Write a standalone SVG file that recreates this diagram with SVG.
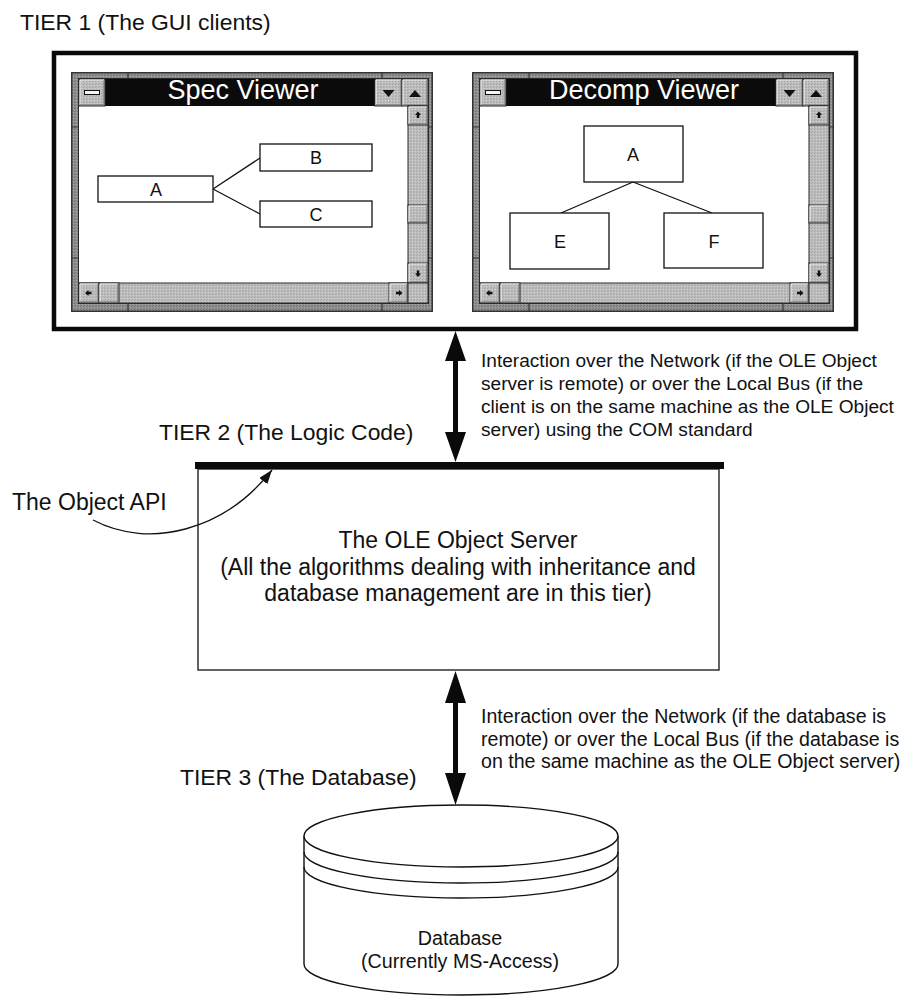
<svg xmlns="http://www.w3.org/2000/svg" xmlns:xlink="http://www.w3.org/1999/xlink" width="905" height="997" viewBox="0 0 905 997">
  <style>
    text { font-family: "Liberation Sans", Arial, Helvetica, sans-serif; fill: #111; }
    .tier { font-size: 22.9px; }
    .note { font-size: 19.6px; }
    .note-com { font-size: 19.1px; }
    .server { font-size: 23px; text-anchor: middle; }
    .db { font-size: 19.7px; text-anchor: middle; }
    .title { font-size: 27px; fill: #fff; text-anchor: middle; }
    .lbl { font-size: 18px; text-anchor: middle; }
    .box { fill: #fff; stroke: #111; stroke-width: 1.3; }
    .link { fill: none; stroke: #111; stroke-width: 1.3; }
    .btn { fill: url(#lightgrain); stroke: #2a2a2a; stroke-width: 1; }
    .hi { fill: none; stroke: #f2f2f2; stroke-width: 1; }
    .sh { fill: none; stroke: #6a6a6a; stroke-width: 1; }
    .glyph { fill: #111; }
    .track { fill: url(#lightgrain); stroke: #2a2a2a; stroke-width: 1; }
    .bigarrow { fill: #0a0a0a; }
  </style>
  <defs>
    <!-- dithered greys of the window frame and scroll bars -->
    <pattern id="grain" width="3" height="3" patternUnits="userSpaceOnUse">
      <rect width="3" height="3" fill="#8e8e8e"/>
      <rect x="0" y="0" width="1" height="1" fill="#707070"/>
      <rect x="2" y="1" width="1" height="1" fill="#a9a9a9"/>
      <rect x="1" y="2" width="1" height="1" fill="#7c7c7c"/>
    </pattern>
    <pattern id="lightgrain" width="3" height="3" patternUnits="userSpaceOnUse">
      <rect width="3" height="3" fill="#bcbcbc"/>
      <rect x="0" y="0" width="1" height="1" fill="#a4a4a4"/>
      <rect x="2" y="1" width="1" height="1" fill="#d2d2d2"/>
      <rect x="1" y="2" width="1" height="1" fill="#adadad"/>
    </pattern>
    <marker id="tip" viewBox="0 0 14 10" refX="14" refY="5" markerWidth="14" markerHeight="10" markerUnits="userSpaceOnUse" orient="auto">
      <path d="M0,0 L14,5 L0,10 Z" fill="#111"/>
    </marker>

    <!-- Windows 3.x style window frame, 362 x 240 -->
    <g id="win-chrome">
      <rect x="0.75" y="0.75" width="360.5" height="238.5" fill="url(#grain)" stroke="#333" stroke-width="1.5"/>
      <path d="M57 0v7M311 0v7M57 231v9M311 231v9M0 55h8M0 186h8M357 55h5M357 186h5" stroke="#333" stroke-width="1.2"/>
      <rect x="8" y="34" width="329" height="177" fill="#fff"/>
      <rect x="34" y="7" width="270" height="27" fill="#0b0b0b"/>
      <!-- control menu button -->
      <rect class="btn" x="8" y="7" width="26" height="27"/>
      <path class="hi" d="M9,33 V8 H33"/>
      <path class="sh" d="M9,33 H33 V8"/>
      <rect x="13.5" y="18.5" width="15" height="4" fill="#f4f4f4" stroke="#111" stroke-width="1"/>
      <!-- minimize / maximize -->
      <rect class="btn" x="304" y="7" width="27" height="27"/>
      <path class="hi" d="M305,33 V8 H330"/>
      <path class="sh" d="M305,33 H330 V8"/>
      <path class="glyph" d="M311.5,18 h12 l-6,7 z"/>
      <rect class="btn" x="331" y="7" width="26" height="27"/>
      <path class="hi" d="M332,33 V8 H356"/>
      <path class="sh" d="M332,33 H356 V8"/>
      <path class="glyph" d="M338,25 h12 l-6,-7 z"/>
      <!-- vertical scroll bar -->
      <rect class="track" x="337" y="34" width="20" height="177"/>
      <rect class="btn" x="337" y="34" width="20" height="19"/>
      <path class="hi" d="M338,52 V35 H356"/>
      <path class="sh" d="M338,52 H356 V35"/>
      <path class="glyph" d="M347,39.5 l3,3.5 h-1.8 v3 h-2.4 v-3 h-1.8 z"/>
      <rect class="btn" x="337" y="133" width="20" height="18"/>
      <path class="hi" d="M338,150 V134 H356"/>
      <path class="sh" d="M338,150 H356 V134"/>
      <rect class="btn" x="337" y="191" width="20" height="20"/>
      <path class="hi" d="M338,210 V192 H356"/>
      <path class="sh" d="M338,210 H356 V192"/>
      <path class="glyph" d="M347,205 l3,-3.5 h-1.8 v-3 h-2.4 v3 h-1.8 z"/>
      <!-- horizontal scroll bar -->
      <rect class="track" x="8" y="211" width="329" height="20"/>
      <rect class="btn" x="8" y="211" width="20" height="20"/>
      <path class="hi" d="M9,230 V212 H27"/>
      <path class="sh" d="M9,230 H27 V212"/>
      <path class="glyph" d="M14,221 l3.5,-3 v1.8 h3 v2.4 h-3 v1.8 z"/>
      <rect class="btn" x="28" y="211" width="20" height="20"/>
      <path class="hi" d="M29,230 V212 H47"/>
      <path class="sh" d="M29,230 H47 V212"/>
      <rect class="btn" x="318" y="211" width="19" height="20"/>
      <path class="hi" d="M319,230 V212 H336"/>
      <path class="sh" d="M319,230 H336 V212"/>
      <path class="glyph" d="M331.5,221 l-3.5,-3 v1.8 h-3 v2.4 h3 v1.8 z"/>
      <rect class="track" x="337" y="211" width="20" height="20"/>
      <rect x="7.5" y="6.5" width="350" height="225" fill="none" stroke="#2a2a2a" stroke-width="1"/>
    </g>
  </defs>

  <rect width="905" height="997" fill="#fff"/>

  <!-- Tier 1: GUI clients -->
  <g id="tier1">
    <text class="tier" x="20" y="30">TIER 1 (The GUI clients)</text>
    <rect x="54" y="53" width="802" height="276" fill="none" stroke="#0a0a0a" stroke-width="4.5"/>
  </g>

  <g id="spec-viewer">
    <use xlink:href="#win-chrome" x="71" y="72"/>
    <text class="title" x="243" y="99">Spec Viewer</text>
    <path class="link" d="M213,189 L260,158 M213,189 L260,214"/>
    <rect class="box" x="98" y="176" width="115" height="26"/>
    <rect class="box" x="260" y="144" width="112" height="27"/>
    <rect class="box" x="260" y="201" width="112" height="26"/>
    <text class="lbl" x="156" y="196">A</text>
    <text class="lbl" x="316" y="164">B</text>
    <text class="lbl" x="316" y="221">C</text>
  </g>

  <g id="decomp-viewer">
    <use xlink:href="#win-chrome" x="472" y="72"/>
    <text class="title" x="644" y="99">Decomp Viewer</text>
    <path class="link" d="M633,182 L561,213 M633,182 L712,213"/>
    <rect class="box" x="584" y="126" width="99" height="56"/>
    <rect class="box" x="510" y="213" width="99" height="56"/>
    <rect class="box" x="664" y="213" width="99" height="55"/>
    <text class="lbl" x="633" y="161">A</text>
    <text class="lbl" x="560" y="248">E</text>
    <text class="lbl" x="714" y="248">F</text>
  </g>

  <!-- Tier 2: logic code -->
  <g id="tier2">
    <text class="tier" x="159" y="440">TIER 2 (The Logic Code)</text>
    <rect x="198" y="469" width="521" height="201" fill="#fff" stroke="#222" stroke-width="1.4"/>
    <rect x="195" y="462" width="529" height="7" fill="#0a0a0a"/>
    <text class="server" x="458" y="548">The OLE Object Server</text>
    <text class="server" x="458" y="575">(All the algorithms dealing with inheritance and</text>
    <text class="server" x="458" y="601">database management are in this tier)</text>
  </g>

  <g id="object-api">
    <text x="12" y="510" style="font-size:23px">The Object API</text>
  </g>

  <!-- Tier 3: database -->
  <g id="tier3">
    <text class="tier" x="180" y="785">TIER 3 (The Database)</text>
  </g>

  <g id="database">
    <path d="M304,836 V964 A157,31 0 0 0 618,964 V836" fill="#fff" stroke="#111" stroke-width="1.4"/>
    <ellipse cx="461" cy="836" rx="157" ry="31" fill="#fff" stroke="#111" stroke-width="1.4"/>
    <path class="link" d="M304,852 A157,31 0 0 0 618,852 M304,867 A157,31 0 0 0 618,867" stroke-width="1.4"/>
    <text class="db" x="460" y="945">Database</text>
    <text class="db" x="460" y="968">(Currently MS-Access)</text>
  </g>

  <!-- connectors and their notes -->
  <g id="connectors">
    <path class="bigarrow" d="M455.5,331 L466,361 L458,361 L458,432 L466,432 L455.5,462 L445,432 L453,432 L453,361 L445,361 Z"/>
    <path class="bigarrow" d="M455.5,671 L466,703 L458,703 L458,773 L466,773 L455.5,805 L445,773 L453,773 L453,703 L445,703 Z"/>
    <path d="M93,520 C150,550 225,530 272,470" fill="none" stroke="#111" stroke-width="1.3" marker-end="url(#tip)"/>
    <text class="note-com" x="481" y="367">Interaction over the Network (if the OLE Object</text>
    <text class="note-com" x="481" y="390">server is remote) or over the Local Bus (if the</text>
    <text class="note-com" x="481" y="413">client is on the same machine as the OLE Object</text>
    <text class="note-com" x="481" y="436">server) using the COM standard</text>
    <text class="note" x="481" y="723">Interaction over the Network (if the database is</text>
    <text class="note" x="481" y="745.5">remote) or over the Local Bus (if the database is</text>
    <text class="note" x="481" y="768">on the same machine as the OLE Object server)</text>
  </g>
</svg>
